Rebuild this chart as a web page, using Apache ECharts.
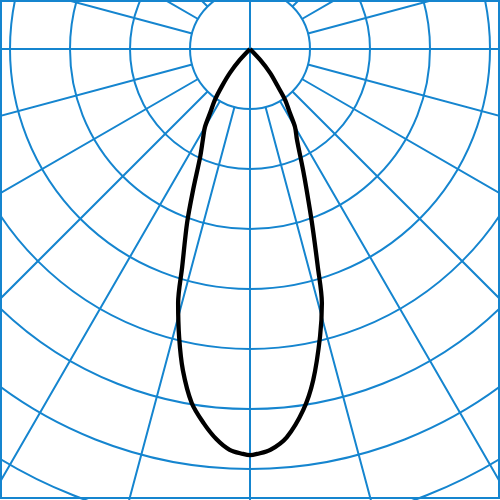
<!DOCTYPE html>
<html>
<head>
<meta charset="utf-8">
<script src="https://cdn.jsdelivr.net/npm/echarts@6/dist/echarts.min.js"></script>
<style>html,body{margin:0;padding:0;background:#fff}#c{width:500px;height:500px}</style>
</head>
<body>
<div id="c"></div>
<script>
// Angles in degrees (0 = straight down, positive = right), intensity values (ring = 100)
var angles = [-45, -43, -40, -37, -34.6, -32, -30, -27.5, -24.8, -22, -19.9, -17.3, -15.8, -13.8, -11.8, -9.35, -7.1, -4.9, -2.9, -1, 0,
              1, 2.9, 5.4, 8.4, 10.8, 13.7, 15.8, 17.3, 19.6, 21.9, 23.7, 27.4, 30, 32, 34.6, 36.6, 40, 43, 45];
var intensity = [0, 25, 52, 78, 103, 125, 150, 170, 198, 253, 308, 380, 440, 495, 547, 598, 628, 653, 669, 675, 677,
                 675, 669, 650, 608, 562, 493, 440, 380, 308, 253, 220, 170, 150, 125, 103, 78, 52, 25, 0];
var ringMax = 900, ringStep = 100;

var gridColor = '#1585cf';
var data = angles.map(function (a, i) { return [intensity[i], a]; });

var chart = echarts.init(document.getElementById('c'));
chart.setOption({
  animation: false,
  backgroundColor: '#fff',
  polar: [
    { center: [250, 49], radius: [60, 540] },
    { center: [250, 49], radius: [0, 540] }
  ],
  angleAxis: [
    { polarIndex: 0, type: 'value', min: -180, max: 180, interval: 15, startAngle: 90, clockwise: false,
      axisLine: { show: false }, axisTick: { show: false }, axisLabel: { show: false },
      splitLine: { show: true, lineStyle: { color: gridColor, width: 2 } } },
    { polarIndex: 1, type: 'value', min: -180, max: 180, interval: 90, startAngle: 90, clockwise: false,
      axisLine: { show: false }, axisTick: { show: false }, axisLabel: { show: false },
      splitLine: { show: true, lineStyle: { color: gridColor, width: 2 } } }
  ],
  radiusAxis: [
    { polarIndex: 0, type: 'value', min: 0, max: ringMax, interval: ringStep,
      axisLine: { show: false }, axisTick: { show: false }, axisLabel: { show: false }, splitLine: { show: false } },
    { polarIndex: 1, type: 'value', min: 0, max: ringMax, interval: ringStep,
      axisLine: { show: false }, axisTick: { show: false }, axisLabel: { show: false },
      splitLine: { show: true, lineStyle: { color: gridColor, width: 2 } } }
  ],
  graphic: [
    { type: 'rect', shape: { x: 1, y: 1, width: 498, height: 497 }, style: { fill: 'none', stroke: gridColor, lineWidth: 2 }, z: 10 }
  ],
  series: [
    { type: 'line', coordinateSystem: 'polar', polarIndex: 1, data: data, symbol: 'none', smooth: 0.3,
      lineStyle: { color: '#000', width: 4.3 }, z: 5 }
  ]
});
</script>
</body>
</html>
